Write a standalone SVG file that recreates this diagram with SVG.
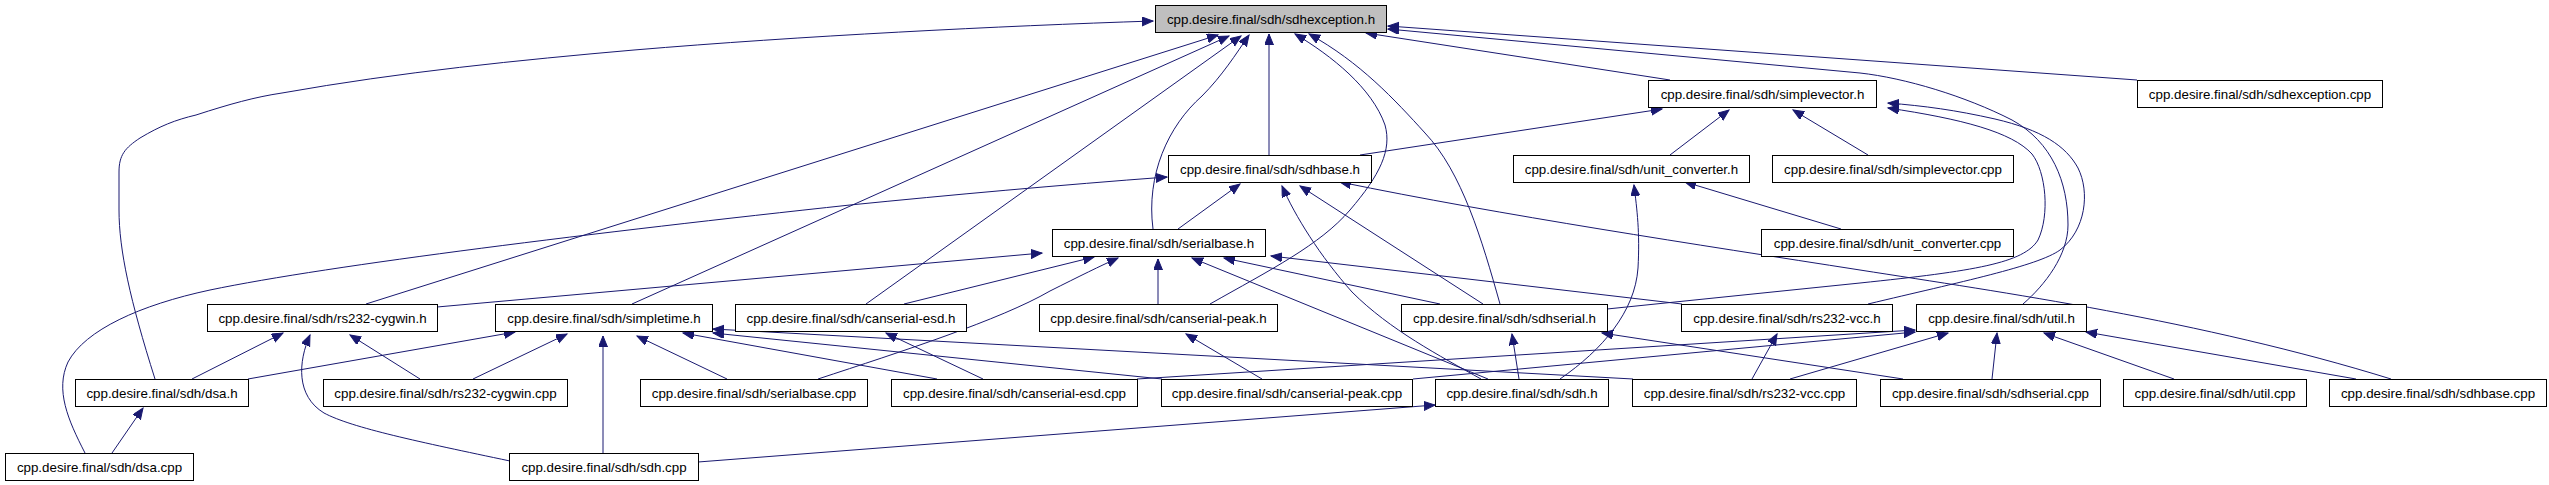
<svg xmlns="http://www.w3.org/2000/svg" width="2549" height="485" viewBox="0 0 2549 485">
<style>
.n rect{fill:#fff;stroke:#000;stroke-width:1}
.n.root rect{fill:#bfbfbf}
.n text{font-family:"Liberation Sans",Arial,Helvetica,sans-serif;font-size:13.33px;text-anchor:middle;fill:#000}
.e path{fill:none;stroke:#191970;stroke-width:1;marker-end:url(#a)}
</style>
<defs>
<marker id="a" markerUnits="userSpaceOnUse" markerWidth="13" markerHeight="10" refX="11" refY="4.5" orient="auto">
<path d="M0,0 L11,4.5 L0,9 z" fill="#191970" stroke="#191970" stroke-width="1"/>
</marker>
</defs>
<rect width="2549" height="485" fill="#fff"/>
<g id="edges" class="e">
<path d="M155,379 C130,300 119,250 119,210 L119,172 C119,155 125,148 140,138 C160,126 175,120 196,115 C230,104 255,97 282,93 C400,72 520,60 634,50 C800,36 1000,26 1153,21"/>
<path d="M366,304 L1218,35"/>
<path d="M632,304 L1229,36"/>
<path d="M866,304 L1241,36"/>
<path d="M1153,229 C1146,175 1168,126 1202,96 C1222,76 1236,54 1249,35"/>
<path d="M1269,155 L1269,34"/>
<path d="M1210,304 C1270,270 1320,245 1350,210 C1380,175 1392,150 1385,125 C1372,88 1332,56 1295,34"/>
<path d="M1500,304 C1482,240 1462,172 1425,133 C1395,100 1360,62 1309,34"/>
<path d="M1670,80 L1366,33"/>
<path d="M2137,80 L1388,26"/>
<path d="M2023,304 C2045,285 2068,255 2068,225 C2068,182 2052,142 2012,120 C1965,96 1905,78 1860,73 L1388,29"/>
<path d="M1360,155 L1662,109"/>
<path d="M1670,155 L1729,110"/>
<path d="M1868,155 L1793,110"/>
<path d="M1607,309 L1860,283 C1975,271 2024,263 2038,240 C2050,215 2046,172 2032,154 C2012,132 1962,119 1888,108"/>
<path d="M1868,304 C1960,282 2038,266 2060,250 C2086,230 2090,192 2078,168 C2066,146 2042,130 1995,119 C1955,110 1925,106 1888,103"/>
<path d="M1841,229 L1685,182"/>
<path d="M1560,379 C1602,350 1635,312 1638,268 C1640,232 1637,210 1634,185"/>
<path d="M2391,379 C2200,320 2000,292 1860,270 C1700,245 1500,215 1340,182"/>
<path d="M1178,229 L1240,184"/>
<path d="M1481,379 C1440,356 1390,330 1352,292 C1320,256 1295,216 1282,186"/>
<path d="M1483,304 L1300,186"/>
<path d="M1440,304 L1224,258"/>
<path d="M437,307 L1042,253"/>
<path d="M904,304 L1094,257"/>
<path d="M818,379 C900,352 1000,320 1050,291 C1080,276 1100,266 1118,258"/>
<path d="M1158,304 L1158,259"/>
<path d="M1488,379 L1192,258"/>
<path d="M1682,304 L1271,256"/>
<path d="M192,379 L283,333"/>
<path d="M420,379 L350,335"/>
<path d="M510,461 C420,442 352,428 324,413 C296,396 298,362 310,335"/>
<path d="M248,379 L515,332"/>
<path d="M473,379 L567,334"/>
<path d="M603,453 L603,336"/>
<path d="M727,379 L637,336"/>
<path d="M937,379 L683,333"/>
<path d="M1633,379 L713,329"/>
<path d="M1162,379 L713,333"/>
<path d="M698,462 L1435,405"/>
<path d="M112,453 L143,408"/>
<path d="M85,453 C68,420 55,390 68,362 C85,330 140,305 210,290 C330,265 600,232 850,205 C950,195 1060,185 1167,177"/>
<path d="M983,379 L886,333"/>
<path d="M1262,379 L1186,334"/>
<path d="M1519,379 L1512,334"/>
<path d="M1903,379 L1602,333"/>
<path d="M1137,379 L1915,330"/>
<path d="M1413,379 L1915,332"/>
<path d="M1752,379 L1777,334"/>
<path d="M1790,379 L1948,333"/>
<path d="M1992,379 L1997,333"/>
<path d="M2174,379 L2044,333"/>
<path d="M2356,379 L2086,332"/>
</g>
<g id="n_sdhexception_h" class="n root"><rect x="1155.5" y="5.5" width="231" height="27"/><text x="1271" y="23.5">cpp.desire.final/sdh/sdhexception.h</text></g>
<g id="n_simplevector_h" class="n"><rect x="1648.5" y="80.5" width="228" height="27"/><text x="1762.5" y="98.5">cpp.desire.final/sdh/simplevector.h</text></g>
<g id="n_sdhexception_cpp" class="n"><rect x="2137.5" y="80.5" width="245" height="27"/><text x="2260" y="98.5">cpp.desire.final/sdh/sdhexception.cpp</text></g>
<g id="n_sdhbase_h" class="n"><rect x="1168.5" y="155.5" width="203" height="27"/><text x="1270" y="173.5">cpp.desire.final/sdh/sdhbase.h</text></g>
<g id="n_unit_converter_h" class="n"><rect x="1513.5" y="155.5" width="236" height="27"/><text x="1631.5" y="173.5">cpp.desire.final/sdh/unit_converter.h</text></g>
<g id="n_simplevector_cpp" class="n"><rect x="1772.5" y="155.5" width="241" height="27"/><text x="1893" y="173.5">cpp.desire.final/sdh/simplevector.cpp</text></g>
<g id="n_serialbase_h" class="n"><rect x="1052.5" y="229.5" width="213" height="27"/><text x="1159" y="247.5">cpp.desire.final/sdh/serialbase.h</text></g>
<g id="n_unit_converter_cpp" class="n"><rect x="1761.5" y="229.5" width="252" height="27"/><text x="1887.5" y="247.5">cpp.desire.final/sdh/unit_converter.cpp</text></g>
<g id="n_rs232_cygwin_h" class="n"><rect x="207.5" y="304.5" width="230" height="27"/><text x="322.5" y="322.5">cpp.desire.final/sdh/rs232-cygwin.h</text></g>
<g id="n_simpletime_h" class="n"><rect x="495.5" y="304.5" width="217" height="27"/><text x="604" y="322.5">cpp.desire.final/sdh/simpletime.h</text></g>
<g id="n_canserial_esd_h" class="n"><rect x="735.5" y="304.5" width="231" height="27"/><text x="851" y="322.5">cpp.desire.final/sdh/canserial-esd.h</text></g>
<g id="n_canserial_peak_h" class="n"><rect x="1039.5" y="304.5" width="238" height="27"/><text x="1158.5" y="322.5">cpp.desire.final/sdh/canserial-peak.h</text></g>
<g id="n_sdhserial_h" class="n"><rect x="1401.5" y="304.5" width="206" height="27"/><text x="1504.5" y="322.5">cpp.desire.final/sdh/sdhserial.h</text></g>
<g id="n_rs232_vcc_h" class="n"><rect x="1681.5" y="304.5" width="211" height="27"/><text x="1787" y="322.5">cpp.desire.final/sdh/rs232-vcc.h</text></g>
<g id="n_util_h" class="n"><rect x="1916.5" y="304.5" width="170" height="27"/><text x="2001.5" y="322.5">cpp.desire.final/sdh/util.h</text></g>
<g id="n_dsa_h" class="n"><rect x="75.5" y="379.5" width="173" height="27"/><text x="162" y="397.5">cpp.desire.final/sdh/dsa.h</text></g>
<g id="n_rs232_cygwin_cpp" class="n"><rect x="323.5" y="379.5" width="244" height="27"/><text x="445.5" y="397.5">cpp.desire.final/sdh/rs232-cygwin.cpp</text></g>
<g id="n_serialbase_cpp" class="n"><rect x="640.5" y="379.5" width="227" height="27"/><text x="754" y="397.5">cpp.desire.final/sdh/serialbase.cpp</text></g>
<g id="n_canserial_esd_cpp" class="n"><rect x="891.5" y="379.5" width="246" height="27"/><text x="1014.5" y="397.5">cpp.desire.final/sdh/canserial-esd.cpp</text></g>
<g id="n_canserial_peak_cpp" class="n"><rect x="1161.5" y="379.5" width="251" height="27"/><text x="1287" y="397.5">cpp.desire.final/sdh/canserial-peak.cpp</text></g>
<g id="n_sdh_h" class="n"><rect x="1435.5" y="379.5" width="173" height="27"/><text x="1522" y="397.5">cpp.desire.final/sdh/sdh.h</text></g>
<g id="n_rs232_vcc_cpp" class="n"><rect x="1632.5" y="379.5" width="224" height="27"/><text x="1744.5" y="397.5">cpp.desire.final/sdh/rs232-vcc.cpp</text></g>
<g id="n_sdhserial_cpp" class="n"><rect x="1880.5" y="379.5" width="220" height="27"/><text x="1990.5" y="397.5">cpp.desire.final/sdh/sdhserial.cpp</text></g>
<g id="n_util_cpp" class="n"><rect x="2123.5" y="379.5" width="183" height="27"/><text x="2215" y="397.5">cpp.desire.final/sdh/util.cpp</text></g>
<g id="n_sdhbase_cpp" class="n"><rect x="2329.5" y="379.5" width="217" height="27"/><text x="2438" y="397.5">cpp.desire.final/sdh/sdhbase.cpp</text></g>
<g id="n_dsa_cpp" class="n"><rect x="5.5" y="453.5" width="188" height="27"/><text x="99.5" y="471.5">cpp.desire.final/sdh/dsa.cpp</text></g>
<g id="n_sdh_cpp" class="n"><rect x="509.5" y="453.5" width="189" height="27"/><text x="604" y="471.5">cpp.desire.final/sdh/sdh.cpp</text></g>
</svg>
